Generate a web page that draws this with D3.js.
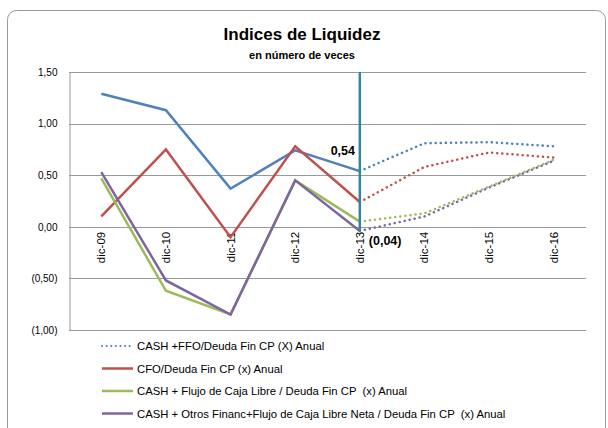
<!DOCTYPE html>
<html>
<head>
<meta charset="utf-8">
<script src="https://cdn.jsdelivr.net/npm/d3@7"></script>
<style>
  body { margin: 0; background: #fff; }
  svg { font-family: "Liberation Sans", Arial, sans-serif; }
</style>
</head>
<body>
<div id="chart"></div>
<script>
// data
var periods = ["dic-09", "dic-10", "dic-11", "dic-12", "dic-13", "dic-14", "dic-15", "dic-16"];
var cashFfo   = [1.29, 1.13, 0.37, 0.74, 0.54, 0.81, 0.82, 0.78];
var cfo       = [0.10, 0.75, -0.10, 0.78, 0.24, 0.58, 0.72, 0.67];
var cashFcl   = [0.47, -0.62, -0.85, 0.45, 0.05, 0.13, 0.39, 0.65];
var cashOtros = [0.53, -0.52, -0.85, 0.45, -0.04, 0.10, 0.38, 0.64];
var yTicks = [-1, -0.5, 0, 0.5, 1, 1.5];
var splitAt = "dic-13";

var series = [
  { name: "CASH +FFO/Deuda Fin CP (X) Anual", values: cashFfo, color: "#4F81BD", legendDotted: true },
  { name: "CFO/Deuda Fin CP (x) Anual", values: cfo, color: "#C0504D" },
  { name: "CASH + Flujo de Caja Libre / Deuda Fin CP  (x) Anual", values: cashFcl, color: "#9BBB59" },
  { name: "CASH + Otros Financ+Flujo de Caja Libre Neta / Deuda Fin CP  (x) Anual", values: cashOtros, color: "#8064A2" }
];

var width = 608, height = 428;
var svg = d3.select("#chart").append("svg")
  .attr("width", width)
  .attr("height", height);

// outer frame
svg.append("rect")
  .attr("x", 7.5).attr("y", 10.5)
  .attr("width", 598).attr("height", 430)
  .attr("rx", 9)
  .attr("fill", "#fff")
  .attr("stroke", "#9a9a9a");

var x = d3.scaleBand().domain(periods).range([69, 586]);
var y = d3.scaleLinear().domain([-1, 1.5]).range([330, 72]);
var cx = d => x(d) + x.bandwidth() / 2;

var fmt = function (v) {
  var s = d3.format(".2f")(Math.abs(v)).replace(".", ",");
  return v < 0 ? "(" + s + ")" : s;
};

// grid
svg.append("g").selectAll("line")
  .data(yTicks)
  .enter().append("line")
  .attr("x1", 69).attr("x2", 586)
  .attr("y1", d => Math.round(y(d)) + 0.5)
  .attr("y2", d => Math.round(y(d)) + 0.5)
  .attr("stroke", "#999");

var yAxis = svg.append("g")
  .attr("transform", "translate(69.5,0)")
  .call(d3.axisLeft(y).tickValues(yTicks).tickFormat(fmt).tickSize(0).tickPadding(12));
yAxis.select(".domain").attr("stroke", "#999");
yAxis.selectAll("text").style("font-size", "10px").attr("fill", "#000")
  .attr("font-family", "Liberation Sans, Arial, sans-serif");

// x labels along the zero line
svg.append("g").selectAll("text")
  .data(periods)
  .enter().append("text")
  .attr("transform", d => "translate(" + (cx(d) + 4) + "," + (y(0) + 5) + ") rotate(-90)")
  .attr("text-anchor", "end")
  .style("font-size", "11.5px")
  .text(d => d);

var splitIdx = periods.indexOf(splitAt);
var line = d3.line()
  .x(d => cx(d.p))
  .y(d => y(d.v));

series.forEach(function (s) {
  var pts = s.values.map((v, i) => ({ p: periods[i], v: v }));
  svg.append("path")
    .attr("d", line(pts.slice(0, splitIdx + 1)))
    .attr("fill", "none")
    .attr("stroke", s.color)
    .attr("stroke-width", 2.5);
  svg.append("path")
    .attr("d", line(pts.slice(splitIdx)))
    .attr("fill", "none")
    .attr("stroke", s.color)
    .attr("stroke-width", 2.5)
    .attr("stroke-linecap", "round")
    .attr("stroke-dasharray", "0.1,5");
});

// vertical marker at dic-13
svg.append("line")
  .attr("x1", cx(splitAt)).attr("x2", cx(splitAt))
  .attr("y1", y(1.5)).attr("y2", y(cashOtros[splitIdx]))
  .attr("stroke", "#31859C")
  .attr("stroke-width", 2.5);

svg.append("text")
  .attr("x", cx(splitAt) - 17).attr("y", y(cashFfo[splitIdx]) - 16)
  .attr("text-anchor", "middle")
  .style("font-size", "12.5px").style("font-weight", "bold")
  .text(fmt(cashFfo[splitIdx]));

svg.append("text")
  .attr("x", cx(splitAt) + 9).attr("y", y(cashOtros[splitIdx]) + 14)
  .style("font-size", "12.5px").style("font-weight", "bold")
  .text(fmt(cashOtros[splitIdx]));

// titles
svg.append("text")
  .attr("x", 302).attr("y", 40)
  .attr("text-anchor", "middle")
  .style("font-size", "17px").style("font-weight", "bold")
  .text("Indices de Liquidez");
svg.append("text")
  .attr("x", 302).attr("y", 59)
  .attr("text-anchor", "middle")
  .style("font-size", "11px").style("font-weight", "bold")
  .text("en número de veces");

// legend
var legend = svg.append("g").selectAll("g")
  .data(series)
  .enter().append("g")
  .attr("transform", (d, i) => "translate(102," + (346 + i * 22.5) + ")");
legend.append("line")
  .attr("x1", 0).attr("x2", 31)
  .attr("stroke", d => d.color)
  .attr("stroke-width", d => d.legendDotted ? 2 : 2.5)
  .attr("stroke-linecap", d => d.legendDotted ? "round" : "butt")
  .attr("stroke-dasharray", d => d.legendDotted ? "0.1,4.5" : null);
legend.append("text")
  .attr("x", 35).attr("y", 4)
  .style("font-size", "11.3px")
  .style("white-space", "pre")
  .text(d => d.name);
</script>
</body>
</html>
